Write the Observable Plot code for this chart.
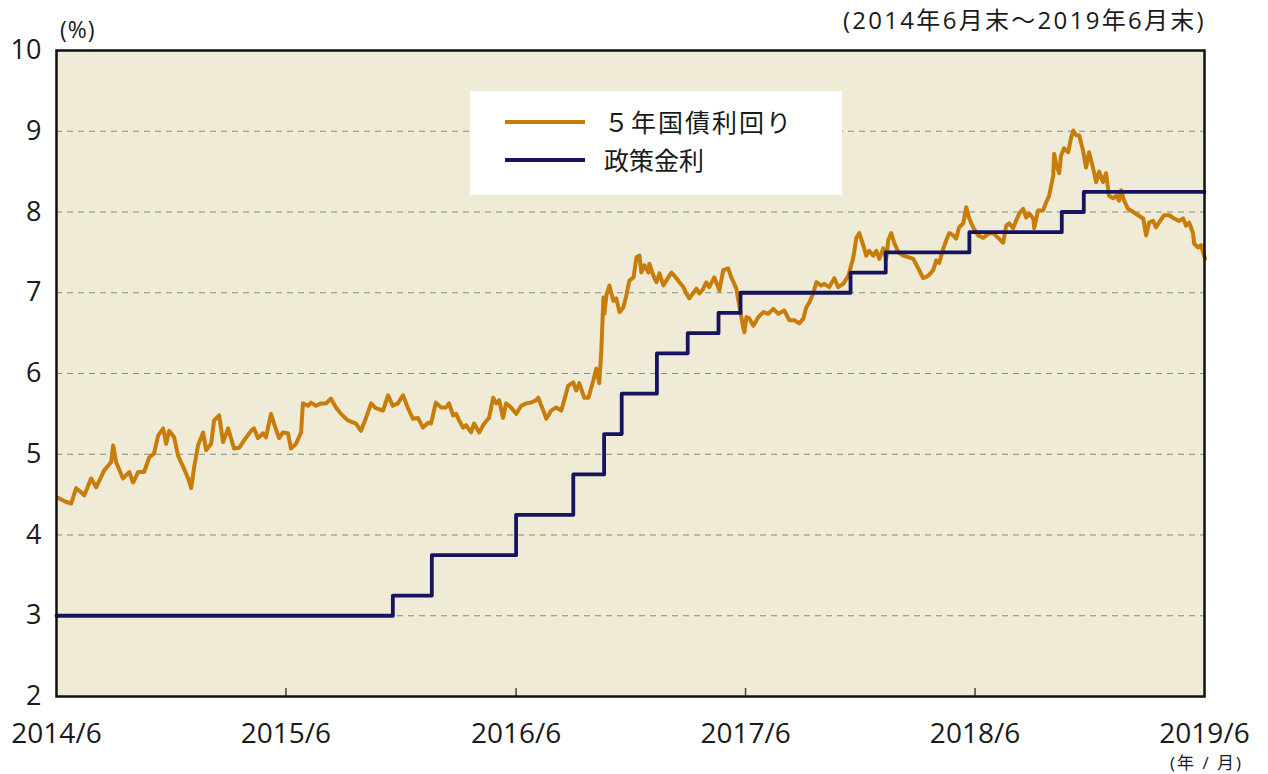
<!DOCTYPE html>
<html><head><meta charset="utf-8">
<script src="https://cdn.jsdelivr.net/npm/d3@7"></script>
<script src="https://cdn.jsdelivr.net/npm/@observablehq/plot@0.6"></script>
<style>
body{margin:0;background:#fff;font-family:"Open Sans","Noto Sans CJK JP",sans-serif;color:#1a1a1a}
#wrap{position:relative;width:1268px;height:774px;overflow:hidden}
.t{position:absolute;white-space:nowrap;line-height:1}
#legend{position:absolute;left:470px;top:91px;width:372px;height:104px;background:#fff}
.sw{position:absolute;left:35px;width:80px;height:4px}
.lt{position:absolute;left:134px;font-size:25px;line-height:1;font-family:"Noto Sans CJK JP",sans-serif}
</style></head><body>
<div id="wrap">
<div class="t" style="left:60px;top:18px;font-size:23px;letter-spacing:1px">(%)</div>
<div class="t" id="period" style="right:62px;top:8px;font-size:24px;letter-spacing:2.3px">(2014年6月末～2019年6月末)</div>
<div class="t" style="left:1170px;top:754px;font-size:17px;letter-spacing:2px">(年 / 月)</div>
<div id="legend">
<div class="sw" style="top:29px;background:#C87D0A"></div>
<div class="lt" style="top:18px;letter-spacing:2px">５年国債利回り</div>
<div class="sw" style="top:67px;background:#16145F"></div>
<div class="lt" style="top:56px">政策金利</div>
</div>
</div>
<script>
// 5-year government bond yield (decimal year, %)
const yieldYear = [2014.500,2014.526,2014.557,2014.579,2014.600,2014.614,2014.644,2014.666,2014.701,2014.731,2014.740,2014.753,2014.783,2014.810,2014.827,2014.849,2014.875,2014.897,2014.918,2014.936,2014.958,2014.971,2014.984,2015.006,2015.023,2015.036,2015.049,2015.067,2015.080,2015.093,2015.110,2015.132,2015.145,2015.167,2015.180,2015.202,2015.219,2015.241,2015.267,2015.289,2015.310,2015.341,2015.354,2015.371,2015.393,2015.406,2015.428,2015.441,2015.463,2015.480,2015.502,2015.515,2015.537,2015.559,2015.567,2015.589,2015.602,2015.624,2015.646,2015.668,2015.689,2015.711,2015.733,2015.763,2015.798,2015.820,2015.842,2015.864,2015.885,2015.916,2015.938,2015.959,2015.981,2016.003,2016.025,2016.046,2016.068,2016.090,2016.112,2016.125,2016.146,2016.168,2016.190,2016.203,2016.221,2016.234,2016.247,2016.264,2016.277,2016.299,2016.312,2016.334,2016.356,2016.377,2016.395,2016.408,2016.421,2016.438,2016.451,2016.473,2016.495,2016.517,2016.539,2016.560,2016.582,2016.591,2016.613,2016.626,2016.647,2016.669,2016.691,2016.704,2016.721,2016.743,2016.756,2016.769,2016.791,2016.809,2016.830,2016.843,2016.856,2016.865,2016.874,2016.878,2016.887,2016.900,2016.917,2016.930,2016.944,2016.961,2016.974,2016.987,2017.005,2017.018,2017.031,2017.039,2017.052,2017.070,2017.074,2017.092,2017.105,2017.118,2017.135,2017.148,2017.170,2017.183,2017.205,2017.222,2017.235,2017.248,2017.266,2017.279,2017.292,2017.309,2017.322,2017.335,2017.357,2017.379,2017.396,2017.418,2017.431,2017.444,2017.453,2017.466,2017.483,2017.488,2017.497,2017.510,2017.527,2017.549,2017.571,2017.592,2017.614,2017.636,2017.662,2017.684,2017.706,2017.727,2017.745,2017.758,2017.771,2017.788,2017.802,2017.823,2017.836,2017.858,2017.880,2017.897,2017.919,2017.941,2017.963,2017.976,2017.989,2018.006,2018.019,2018.032,2018.050,2018.063,2018.076,2018.093,2018.106,2018.115,2018.128,2018.141,2018.159,2018.180,2018.202,2018.224,2018.246,2018.267,2018.289,2018.311,2018.324,2018.337,2018.355,2018.368,2018.381,2018.398,2018.411,2018.424,2018.442,2018.455,2018.468,2018.485,2018.507,2018.529,2018.551,2018.572,2018.594,2018.616,2018.629,2018.642,2018.659,2018.672,2018.686,2018.703,2018.716,2018.729,2018.747,2018.751,2018.768,2018.790,2018.803,2018.816,2018.834,2018.838,2018.847,2018.860,2018.868,2018.881,2018.899,2018.912,2018.921,2018.934,2018.947,2018.964,2018.977,2018.990,2019.008,2019.021,2019.034,2019.051,2019.064,2019.077,2019.095,2019.108,2019.121,2019.130,2019.143,2019.160,2019.182,2019.204,2019.226,2019.239,2019.252,2019.269,2019.282,2019.295,2019.317,2019.339,2019.361,2019.382,2019.400,2019.413,2019.426,2019.443,2019.448,2019.465,2019.478,2019.487,2019.496];
const yieldValue = [4.46,4.42,4.39,4.58,4.53,4.49,4.70,4.59,4.80,4.90,5.11,4.90,4.70,4.78,4.65,4.78,4.78,4.96,5.01,5.23,5.32,5.13,5.29,5.21,4.98,4.90,4.82,4.70,4.58,4.84,5.11,5.27,5.05,5.13,5.42,5.48,5.15,5.32,5.07,5.08,5.17,5.29,5.32,5.20,5.26,5.21,5.50,5.38,5.20,5.27,5.26,5.07,5.13,5.27,5.63,5.60,5.64,5.60,5.63,5.63,5.69,5.58,5.50,5.42,5.38,5.29,5.45,5.63,5.57,5.54,5.73,5.60,5.63,5.73,5.57,5.44,5.45,5.33,5.39,5.38,5.64,5.58,5.58,5.63,5.48,5.50,5.42,5.33,5.36,5.27,5.38,5.27,5.38,5.45,5.70,5.63,5.67,5.45,5.63,5.58,5.50,5.60,5.63,5.64,5.67,5.70,5.54,5.44,5.54,5.58,5.54,5.67,5.85,5.89,5.79,5.88,5.70,5.70,5.91,6.06,5.88,6.28,6.94,6.74,6.97,7.09,6.90,6.93,6.76,6.82,6.97,7.15,7.19,7.44,7.46,7.25,7.34,7.25,7.36,7.21,7.13,7.24,7.09,7.15,7.25,7.21,7.13,7.07,6.99,6.93,7.00,7.05,6.99,7.05,7.13,7.07,7.19,7.03,7.28,7.30,7.19,7.11,7.05,6.84,6.57,6.51,6.70,6.68,6.59,6.70,6.76,6.74,6.80,6.74,6.78,6.66,6.66,6.62,6.68,6.82,6.88,6.99,7.13,7.09,7.11,7.07,7.18,7.07,7.11,7.21,7.44,7.68,7.74,7.59,7.46,7.52,7.46,7.52,7.42,7.55,7.42,7.65,7.74,7.62,7.50,7.46,7.44,7.42,7.30,7.18,7.21,7.28,7.40,7.37,7.55,7.65,7.74,7.71,7.67,7.81,7.86,8.06,7.92,7.81,7.71,7.68,7.73,7.74,7.68,7.62,7.83,7.86,7.80,7.89,7.98,8.04,7.93,7.98,7.92,7.80,8.02,8.02,8.12,8.20,8.45,8.72,8.59,8.48,8.70,8.79,8.74,8.92,9.01,8.95,8.95,8.76,8.55,8.74,8.54,8.37,8.50,8.37,8.48,8.20,8.17,8.20,8.14,8.27,8.14,8.04,8.00,7.96,7.92,7.71,7.87,7.89,7.81,7.87,7.96,7.96,7.92,7.89,7.92,7.83,7.87,7.74,7.61,7.56,7.59,7.50,7.42];

// Policy rate
const policyDate = ["2014-06-30","2015-12-17","2016-02-17","2016-06-30","2016-09-29","2016-11-17","2016-12-15","2017-02-09","2017-03-30","2017-05-18","2017-06-22","2017-12-14","2018-02-08","2018-06-21","2018-11-15","2018-12-20","2019-06-30"];
const policyRate = [3.00,3.25,3.75,4.25,4.75,5.25,5.75,6.25,6.50,6.75,7.00,7.25,7.50,7.75,8.00,8.25,8.25];

const yTicks = [2,3,4,5,6,7,8,9,10];
const yTickLabels = ["2","3","4","5","6","7","8","9","10"];
const gridValues = [3,4,5,6,7,8,9];
const xTickDate = ["2014-06-30","2015-06-30","2016-06-30","2017-06-30","2018-06-30","2019-06-30"];
const xTickLabels = ["2014/6","2015/6","2016/6","2017/6","2018/6","2019/6"];

function fromDecimalYear(y){
  const yr = Math.floor(y);
  const s = Date.UTC(yr,0,1), e = Date.UTC(yr+1,0,1);
  return new Date(s + (y-yr)*(e-s));
}
const yieldData = yieldYear.map((y,i)=>({date:fromDecimalYear(y), value:yieldValue[i]}));
const policyData = policyDate.map((d,i)=>({date:new Date(d+"T00:00:00Z"), value:policyRate[i]}));
const xTicks = xTickDate.map(d=>new Date(d+"T00:00:00Z"));

const chart = Plot.plot({
  width:1268, height:774,
  marginLeft:56, marginRight:64, marginTop:50, marginBottom:78,
  style:{fontFamily:'"Open Sans","Noto Sans CJK JP",sans-serif', fontSize:"27px", color:"#1a1a1a", background:"transparent"},
  x:{type:"utc", domain:[xTicks[0], xTicks[xTicks.length-1]]},
  y:{domain:[2,10]},
  marks:[
    Plot.frame({fill:"#EFEBD6", stroke:null}),
    Plot.ruleY(gridValues, {stroke:"#7f8f80", strokeWidth:1.2, strokeDasharray:"6,5"}),
    Plot.ruleX(xTicks.slice(1,-1), {y1:2, y2:2.1, stroke:"#444", strokeWidth:1.5}),
    Plot.line(yieldData, {x:"date", y:"value", stroke:"#C87D0A", strokeWidth:4, strokeLinejoin:"round"}),
    Plot.line(policyData, {x:"date", y:"value", curve:"step-after", stroke:"#16145F", strokeWidth:3.8}),
    Plot.axisY(yTicks, {tickSize:0, tickPadding:15, fontSize:27, label:null,
      tickFormat:d=>yTickLabels[yTicks.indexOf(d)]}),
    Plot.axisX(xTicks, {tickSize:0, tickPadding:27, fontSize:28, label:null,
      tickFormat:d=>xTickLabels[xTicks.findIndex(t=>+t===+d)]}),
    Plot.frame({stroke:"#111", strokeWidth:2.5})
  ]
});
chart.style.position="absolute"; chart.style.left="0"; chart.style.top="0";
const wrap=document.getElementById("wrap");
wrap.insertBefore(chart, wrap.firstChild);
</script>
</body></html>
